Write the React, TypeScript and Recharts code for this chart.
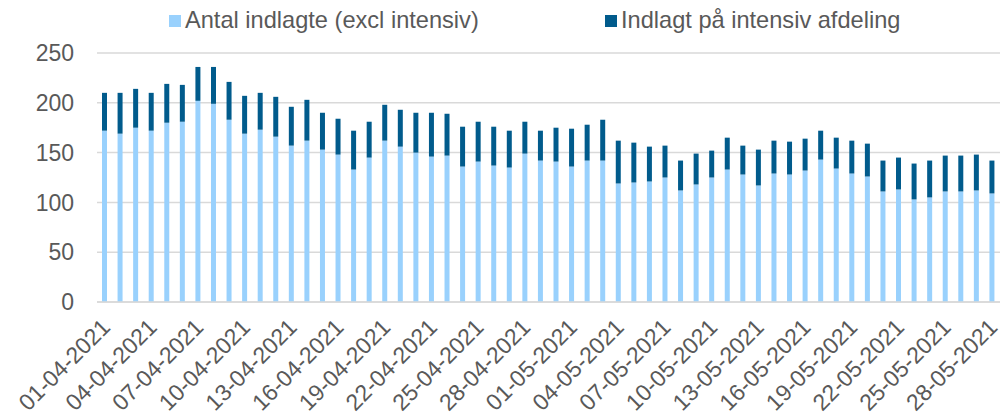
import { BarChart, Bar, XAxis, YAxis, CartesianGrid, Legend } from "recharts";

const dates = [
  "01-04-2021", "02-04-2021", "03-04-2021", "04-04-2021", "05-04-2021", "06-04-2021",
  "07-04-2021", "08-04-2021", "09-04-2021", "10-04-2021", "11-04-2021", "12-04-2021",
  "13-04-2021", "14-04-2021", "15-04-2021", "16-04-2021", "17-04-2021", "18-04-2021",
  "19-04-2021", "20-04-2021", "21-04-2021", "22-04-2021", "23-04-2021", "24-04-2021",
  "25-04-2021", "26-04-2021", "27-04-2021", "28-04-2021", "29-04-2021", "30-04-2021",
  "01-05-2021", "02-05-2021", "03-05-2021", "04-05-2021", "05-05-2021", "06-05-2021",
  "07-05-2021", "08-05-2021", "09-05-2021", "10-05-2021", "11-05-2021", "12-05-2021",
  "13-05-2021", "14-05-2021", "15-05-2021", "16-05-2021", "17-05-2021", "18-05-2021",
  "19-05-2021", "20-05-2021", "21-05-2021", "22-05-2021", "23-05-2021", "24-05-2021",
  "25-05-2021", "26-05-2021", "27-05-2021", "28-05-2021",
];

// indlagte uden intensiv
const ward = [
  172, 169, 175, 172, 180, 181, 202, 199, 183, 169,
  173, 166, 157, 162, 153, 148, 133, 145, 162, 156,
  150, 146, 147, 136, 141, 137, 135, 149, 142, 141,
  136, 142, 142, 119, 120, 121, 125, 112, 118, 125,
  133, 128, 117, 129, 128, 132, 143, 134, 129, 126,
  111, 113, 103, 105, 111, 111, 112, 109,
];

// indlagt paa intensiv
const icu = [
  38, 41, 39, 38, 39, 37, 34, 37, 38, 38,
  37, 40, 39, 41, 37, 36, 39, 36, 36, 37,
  40, 44, 42, 40, 40, 39, 37, 32, 30, 34,
  38, 36, 41, 43, 40, 35, 32, 30, 31, 27,
  32, 29, 36, 33, 33, 32, 29, 31, 33, 33,
  31, 32, 36, 37, 36, 36, 36, 33,
];

const yTicks = [0, 50, 100, 150, 200, 250];

const LIGHT = "#99D1FD";
const DARK = "#015B8C";
const TEXT = "#595959";
const FONT = "'Liberation Sans', Arial, sans-serif";

const chartData = dates.map((d, i) => ({ date: d, ward: ward[i], icu: icu[i] }));

function DateTick(props: any) {
  const { x, y, payload } = props;
  return (
    <g transform={`translate(${x + 1},${y + 21}) rotate(-45)`}>
      <text x={0} y={0} dy="0.35em" textAnchor="end" fill={TEXT} fontSize={23} fontFamily={FONT}>
        {payload.value}
      </text>
    </g>
  );
}

function LegendBox() {
  const item = (left: number, color: string, label: string) => (
    <div style={{ position: "absolute", left, top: 0, height: 40 }}>
      <div style={{ position: "absolute", left: 0, top: 15, width: 12, height: 12, background: color }} />
      <span
        style={{
          position: "absolute",
          left: 16,
          top: 9,
          fontSize: 23.6,
          lineHeight: "23px",
          whiteSpace: "nowrap",
          color: TEXT,
          fontFamily: FONT,
        }}
      >
        {label}
      </span>
    </div>
  );
  return (
    <div style={{ position: "relative", width: 1006, height: 40 }}>
      {item(169, LIGHT, "Antal indlagte (excl intensiv)")}
      {item(605, DARK, "Indlagt på intensiv afdeling")}
    </div>
  );
}

export default function App() {
  return (
    <div style={{ position: "absolute", left: 0, top: 0, width: 1006, height: 420, background: "#fff" }}>
      <BarChart
        width={1006}
        height={420}
        data={chartData}
        margin={{ top: 13, right: 6, bottom: 0, left: 0 }}
        barCategoryGap={0}
      >
        <CartesianGrid vertical={false} stroke="#D9D9D9" strokeWidth={1.5} />
        <XAxis
          dataKey="date"
          interval={2}
          height={118}
          tickLine={false}
          tickSize={0}
          tickMargin={0}
          axisLine={{ stroke: "#D9D9D9", strokeWidth: 1.5 }}
          tick={<DateTick />}
        />
        <YAxis
          width={97}
          domain={[0, 250]}
          ticks={yTicks}
          axisLine={false}
          tickLine={false}
          tickSize={0}
          tickMargin={23}
          tick={{ fill: TEXT, fontSize: 23, fontFamily: FONT }}
        />
        <Legend verticalAlign="top" height={40} wrapperStyle={{ top: 0, left: 0, width: 1006 }} content={<LegendBox />} />
        <Bar dataKey="ward" stackId="a" fill={LIGHT} barSize={5} isAnimationActive={false} />
        <Bar dataKey="icu" stackId="a" fill={DARK} barSize={5} isAnimationActive={false} />
      </BarChart>
    </div>
  );
}
